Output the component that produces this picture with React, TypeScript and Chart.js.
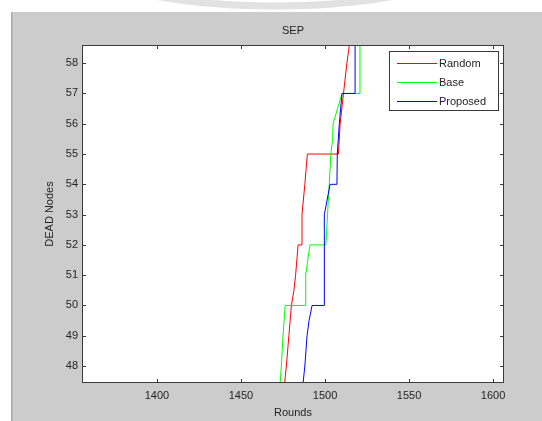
import React, { useEffect, useRef } from "react";
import { Chart, registerables } from "chart.js";

Chart.register(...registerables);

// ---- text ----
const chartTitle = "SEP";
const xAxisTitle = "Rounds";
const yAxisTitle = "DEAD Nodes";
const seriesNames = ["Random", "Base", "Proposed"];

// ---- axes ----
const xTicks = [1400, 1450, 1500, 1550, 1600];
const yTicks = [48, 49, 50, 51, 52, 53, 54, 55, 56, 57, 58];
const xRange = [1355.4, 1606.5];
const yRange = [47.44, 58.6];

// ---- series (rounds vs dead nodes) ----
const randomRounds = [1475.5, 1477, 1478.5, 1480, 1481.5, 1482.5, 1484, 1486.3, 1486.3, 1488, 1489.5, 1508, 1509, 1511, 1513, 1515.5];
const randomDead = [47.2, 48, 49, 50, 50.5, 51, 52, 52, 53, 54, 55, 55, 56, 57, 58, 59];

const baseRounds = [1473, 1474, 1475, 1476.3, 1488.1, 1488.5, 1490.5, 1491.1, 1500.5, 1501.5, 1502.5, 1503.5, 1504.5, 1504.8, 1510.1, 1520.8, 1520.8];
const baseDead = [47.2, 48, 49, 50, 50, 51, 51.8, 52, 52, 53, 54, 55, 55.5, 56, 57, 57, 59];

const proposedRounds = [1486.5, 1488, 1489.3, 1490.5, 1492.3, 1493.5, 1499.4, 1499.6, 1503, 1507.1, 1507.3, 1508.5, 1510.1, 1517.9, 1517.9];
const proposedDead = [47.2, 48, 49, 49.5, 50, 50, 50, 53, 54, 54, 55, 56, 57, 57, 59];

const seriesColors = ["#ff0000", "#00ff00", "#0000ff"];

const zip = (xs: number[], ys: number[]) => xs.map((x, i) => ({ x, y: ys[i] }));

const FONT = '"Liberation Sans", Arial, Helvetica, sans-serif';
const TEXT = "#242424";

export default function App() {
  const ref = useRef<HTMLCanvasElement>(null);

  useEffect(() => {
    document.body.style.margin = "0";
    const canvas = ref.current!;

    const bgPlugin = {
      id: "bg",
      beforeDraw(chart: any) {
        const { ctx, width, height, chartArea: a } = chart;
        ctx.save();
        ctx.fillStyle = "#ffffff";
        ctx.fillRect(0, 0, width, height);
        // faint arc at top (scan artifact)
        ctx.save();
        ctx.beginPath();
        ctx.rect(0, 0, width, 12);
        ctx.clip();
        ctx.strokeStyle = "#e2e2e2";
        ctx.lineWidth = 7;
        ctx.beginPath();
        ctx.ellipse(275, -60, 225, 66, 0, 0, Math.PI * 2);
        ctx.stroke();
        ctx.restore();
        // figure background
        ctx.fillStyle = "#cccccc";
        ctx.fillRect(11, 12, width - 11, height - 12);
        ctx.fillStyle = "#a8a8a8";
        ctx.fillRect(11, 12, 1.5, height - 12);
        // axes background
        ctx.fillStyle = "#ffffff";
        ctx.fillRect(a.left, a.top, a.right - a.left, a.bottom - a.top);
        ctx.restore();
      },
    };

    const boxPlugin = {
      id: "box",
      afterDatasetsDraw(chart: any) {
        const { ctx, chartArea: a, scales } = chart;
        const xs = scales.x;
        const ys = scales.y;
        ctx.save();
        ctx.strokeStyle = "#3a3a3a";
        ctx.lineWidth = 1;
        ctx.beginPath();
        const tl = 4;
        xTicks.forEach((v) => {
          const px = Math.round(xs.getPixelForValue(v)) + 0.5;
          ctx.moveTo(px, a.bottom);
          ctx.lineTo(px, a.bottom - tl);
          ctx.moveTo(px, a.top);
          ctx.lineTo(px, a.top + tl);
        });
        yTicks.forEach((v) => {
          const py = Math.round(ys.getPixelForValue(v)) + 0.5;
          ctx.moveTo(a.left, py);
          ctx.lineTo(a.left + tl, py);
          ctx.moveTo(a.right, py);
          ctx.lineTo(a.right - tl, py);
        });
        ctx.stroke();
        ctx.strokeRect(a.left + 0.5, a.top + 0.5, a.right - a.left - 1, a.bottom - a.top - 1);

        // legend
        const bw = 110;
        const bh = 60;
        const bx = a.right - 5 - bw;
        const by = a.top + 6;
        ctx.fillStyle = "#ffffff";
        ctx.fillRect(bx, by, bw, bh);
        ctx.strokeStyle = "#3a3a3a";
        ctx.strokeRect(bx + 0.5, by + 0.5, bw - 1, bh - 1);
        ctx.font = `11px ${FONT}`;
        ctx.textBaseline = "middle";
        ctx.textAlign = "left";
        seriesNames.forEach((name, i) => {
          const ry = Math.round(by + 12 + i * 19) + 0.5;
          ctx.strokeStyle = seriesColors[i];
          ctx.lineWidth = 1;
          ctx.beginPath();
          ctx.moveTo(bx + 8, ry);
          ctx.lineTo(bx + 48, ry);
          ctx.stroke();
          ctx.fillStyle = TEXT;
          ctx.fillText(name, bx + 50, ry);
        });
        ctx.restore();
      },
    };

    const tickFont = { family: FONT, size: 11, weight: "normal" as const };

    const chart = new Chart(canvas, {
      type: "line",
      data: {
        datasets: [
          { label: seriesNames[0], data: zip(randomRounds, randomDead), borderColor: seriesColors[0], order: 3 },
          { label: seriesNames[1], data: zip(baseRounds, baseDead), borderColor: seriesColors[1], order: 2 },
          { label: seriesNames[2], data: zip(proposedRounds, proposedDead), borderColor: seriesColors[2], order: 1 },
        ],
      },
      options: {
        animation: false,
        responsive: false,
        devicePixelRatio: 1,
        layout: { padding: { left: 0, right: 38, top: 0, bottom: 0 } },
        elements: {
          point: { radius: 0 },
          line: { borderWidth: 1, tension: 0, fill: false },
        },
        plugins: {
          legend: { display: false },
          tooltip: { enabled: false },
          title: {
            display: true,
            fullSize: false,
            text: chartTitle,
            color: TEXT,
            font: { family: FONT, size: 11, weight: "normal" },
            padding: { top: 24, bottom: 7.8 },
          },
        },
        scales: {
          x: {
            type: "linear",
            min: xRange[0],
            max: xRange[1],
            afterFit: (s: any) => {
              s.height = 38;
            },
            afterBuildTicks: (s: any) => {
              s.ticks = xTicks.map((v) => ({ value: v }));
            },
            grid: { display: false, drawTicks: false },
            border: { display: false },
            ticks: {
              color: TEXT,
              font: tickFont,
              padding: 6,
              maxRotation: 0,
              autoSkip: false,
              callback: (v: any) => String(v),
            },
            title: { display: true, text: xAxisTitle, color: TEXT, font: tickFont, padding: { top: 0, bottom: 1 } },
          },
          y: {
            type: "linear",
            min: yRange[0],
            max: yRange[1],
            afterFit: (s: any) => {
              s.width = 82;
            },
            afterBuildTicks: (s: any) => {
              s.ticks = yTicks.map((v) => ({ value: v }));
            },
            grid: { display: false, drawTicks: false },
            border: { display: false },
            ticks: { color: TEXT, font: tickFont, padding: 4, autoSkip: false, callback: (v: any) => String(v) },
            title: { display: true, text: yAxisTitle, color: TEXT, font: tickFont, padding: { top: 43.4, bottom: 0 } },
          },
        },
      },
      plugins: [bgPlugin, boxPlugin],
    } as any);

    return () => chart.destroy();
  }, []);

  return (
    <div style={{ position: "absolute", left: 0, top: 0, width: 542, height: 421 }}>
      <canvas ref={ref} width={542} height={421} style={{ display: "block" }} />
    </div>
  );
}
